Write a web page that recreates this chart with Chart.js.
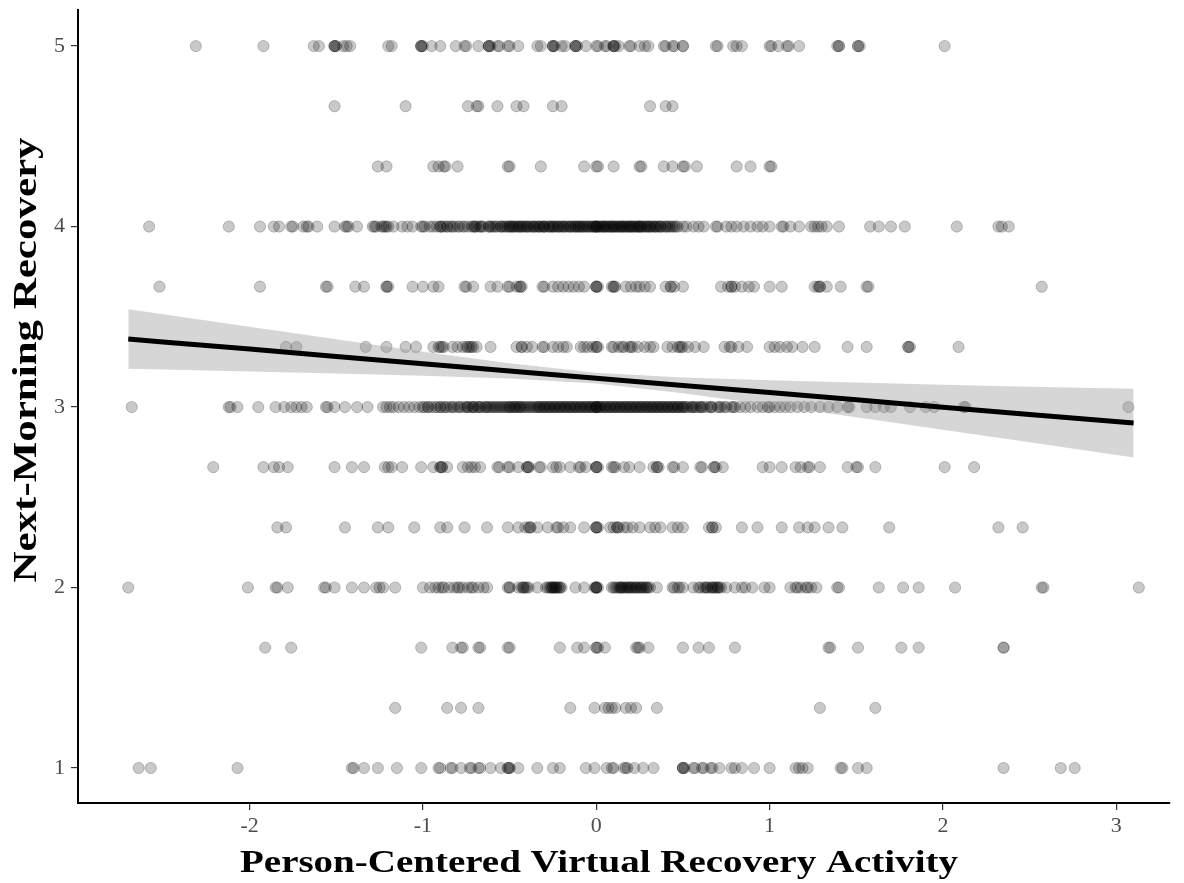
<!DOCTYPE html>
<html>
<head>
<meta charset="utf-8">
<script src="https://cdn.jsdelivr.net/npm/chart.js@4.4.1/dist/chart.umd.min.js"></script>
<style>
  html, body { margin: 0; padding: 0; background: #fff; }
  #wrap { width: 1184px; height: 883px; }
</style>
</head>
<body>
<div id="wrap"><canvas id="chart"></canvas></div>
<script>
// response levels (rows of the scatter)
const rowLevels = [1, 1.333, 1.667, 2, 2.333, 2.667, 3, 3.333, 3.667, 4, 4.333, 4.667, 5];

// x values read per row (repeats where the dots stack up darker)
const row100 = [-2.64,-2.57,-2.07,-1.41,-1.40,-1.34,-1.26,-1.15,-1.01,-0.91,-0.90,-0.84,-0.83,-0.78,-0.73,-0.72,-0.68,-0.67,-0.61,-0.55,-0.51,-0.51,-0.50,-0.50,-0.45,-0.34,-0.25,-0.21,-0.06,-0.01,0.06,0.09,0.10,0.16,0.17,0.18,0.22,0.27,0.33,0.50,0.50,0.50,0.51,0.56,0.57,0.61,0.62,0.66,0.67,0.71,0.78,0.80,0.84,0.91,1.00,1.15,1.17,1.19,1.22,1.41,1.42,1.51,1.56,2.35,2.68,2.76];
const row133 = [-1.16,-0.86,-0.78,-0.68,-0.15,-0.01,0.05,0.07,0.09,0.11,0.17,0.20,0.23,0.35,1.29,1.61];
const row167 = [-1.91,-1.76,-1.01,-0.83,-0.78,-0.77,-0.68,-0.67,-0.51,-0.50,-0.21,-0.11,-0.07,0.00,0.00,0.01,0.05,0.23,0.24,0.25,0.30,0.50,0.59,0.65,0.80,1.34,1.35,1.51,1.76,1.86,2.35,2.35];
const row200 = [-2.70,-2.01,-1.85,-1.84,-1.78,-1.57,-1.56,-1.51,-1.41,-1.34,-1.27,-1.25,-1.23,-1.16,-1.00,-0.96,-0.93,-0.91,-0.89,-0.88,-0.85,-0.82,-0.80,-0.79,-0.77,-0.74,-0.72,-0.71,-0.68,-0.65,-0.63,-0.51,-0.50,-0.50,-0.45,-0.43,-0.42,-0.42,-0.41,-0.40,-0.39,-0.34,-0.29,-0.28,-0.27,-0.26,-0.26,-0.25,-0.25,-0.24,-0.24,-0.23,-0.23,-0.22,-0.21,-0.21,-0.20,-0.12,-0.07,-0.01,0.00,0.00,0.00,0.00,0.01,0.09,0.10,0.11,0.12,0.13,0.14,0.14,0.15,0.15,0.16,0.17,0.18,0.18,0.19,0.20,0.20,0.21,0.22,0.23,0.23,0.24,0.25,0.26,0.26,0.27,0.28,0.29,0.29,0.30,0.31,0.35,0.44,0.45,0.47,0.48,0.50,0.56,0.59,0.60,0.62,0.63,0.64,0.64,0.66,0.67,0.67,0.68,0.69,0.70,0.70,0.71,0.72,0.75,0.80,0.84,0.86,0.90,0.97,1.00,1.12,1.15,1.16,1.18,1.21,1.22,1.24,1.27,1.39,1.40,1.63,1.77,1.86,2.07,2.57,2.58,3.13];
const row233 = [-1.84,-1.79,-1.45,-1.26,-1.20,-1.05,-0.90,-0.86,-0.76,-0.63,-0.51,-0.45,-0.41,-0.39,-0.38,-0.38,-0.34,-0.28,-0.23,-0.22,-0.19,-0.15,-0.07,0.00,0.00,0.00,0.01,0.08,0.10,0.12,0.12,0.13,0.16,0.18,0.21,0.25,0.31,0.34,0.37,0.44,0.47,0.50,0.65,0.67,0.67,0.69,0.84,0.93,1.07,1.17,1.22,1.26,1.34,1.42,1.69,2.32,2.46];
const row267 = [-2.21,-1.92,-1.86,-1.83,-1.78,-1.51,-1.41,-1.34,-1.22,-1.20,-1.18,-1.12,-1.01,-0.94,-0.90,-0.90,-0.89,-0.89,-0.86,-0.77,-0.74,-0.72,-0.70,-0.67,-0.57,-0.56,-0.51,-0.50,-0.45,-0.40,-0.40,-0.39,-0.39,-0.33,-0.32,-0.25,-0.23,-0.21,-0.15,-0.10,-0.09,-0.06,0.00,0.00,0.00,0.01,0.09,0.10,0.11,0.16,0.19,0.25,0.33,0.35,0.35,0.36,0.44,0.45,0.50,0.60,0.61,0.68,0.68,0.69,0.73,0.96,1.00,1.07,1.15,1.18,1.22,1.23,1.29,1.45,1.50,1.51,1.61,2.01,2.18];
const row300 = [-2.68,-2.12,-2.11,-2.07,-1.95,-1.85,-1.80,-1.76,-1.73,-1.70,-1.67,-1.56,-1.55,-1.51,-1.45,-1.38,-1.32,-1.23,-1.21,-1.19,-1.17,-1.14,-1.11,-1.08,-1.05,-1.02,-1.00,-0.99,-0.97,-0.97,-0.95,-0.93,-0.92,-0.90,-0.90,-0.88,-0.87,-0.86,-0.84,-0.83,-0.82,-0.80,-0.79,-0.78,-0.76,-0.75,-0.74,-0.74,-0.72,-0.71,-0.71,-0.70,-0.68,-0.68,-0.67,-0.66,-0.64,-0.64,-0.63,-0.62,-0.61,-0.60,-0.59,-0.58,-0.57,-0.56,-0.55,-0.54,-0.53,-0.52,-0.51,-0.50,-0.50,-0.49,-0.48,-0.47,-0.47,-0.46,-0.45,-0.44,-0.44,-0.43,-0.42,-0.41,-0.40,-0.39,-0.38,-0.37,-0.36,-0.35,-0.34,-0.33,-0.33,-0.32,-0.31,-0.30,-0.30,-0.29,-0.28,-0.27,-0.27,-0.26,-0.25,-0.24,-0.24,-0.23,-0.22,-0.21,-0.21,-0.20,-0.19,-0.18,-0.18,-0.17,-0.16,-0.15,-0.15,-0.14,-0.13,-0.12,-0.12,-0.11,-0.10,-0.09,-0.09,-0.08,-0.07,-0.06,-0.06,-0.05,-0.04,-0.03,-0.03,-0.02,-0.01,0.00,0.00,0.00,0.00,0.01,0.02,0.02,0.03,0.04,0.05,0.05,0.06,0.07,0.08,0.08,0.09,0.10,0.11,0.11,0.12,0.13,0.14,0.14,0.15,0.16,0.17,0.17,0.18,0.19,0.20,0.20,0.21,0.22,0.23,0.23,0.24,0.25,0.26,0.26,0.27,0.28,0.29,0.29,0.30,0.31,0.32,0.32,0.33,0.34,0.35,0.35,0.36,0.37,0.38,0.38,0.39,0.40,0.41,0.41,0.42,0.43,0.44,0.44,0.45,0.46,0.47,0.47,0.48,0.49,0.50,0.50,0.51,0.52,0.53,0.55,0.55,0.56,0.57,0.58,0.60,0.60,0.61,0.62,0.64,0.66,0.66,0.67,0.70,0.71,0.72,0.74,0.75,0.78,0.79,0.80,0.83,0.86,0.89,0.93,0.96,0.99,1.00,1.03,1.06,1.09,1.12,1.16,1.20,1.24,1.29,1.34,1.39,1.45,1.46,1.56,1.61,1.66,1.70,1.81,1.90,1.95,2.12,2.13,3.07];
const row333 = [-1.79,-1.73,-1.33,-1.21,-1.10,-1.04,-0.94,-0.91,-0.90,-0.89,-0.88,-0.83,-0.80,-0.77,-0.75,-0.74,-0.73,-0.72,-0.71,-0.69,-0.61,-0.46,-0.43,-0.43,-0.40,-0.37,-0.31,-0.30,-0.25,-0.22,-0.19,-0.17,-0.09,-0.07,-0.05,-0.02,0.00,0.00,0.01,0.09,0.10,0.13,0.15,0.16,0.19,0.20,0.21,0.24,0.28,0.31,0.33,0.41,0.44,0.47,0.48,0.49,0.50,0.53,0.57,0.62,0.74,0.77,0.78,0.82,0.87,1.00,1.03,1.06,1.10,1.13,1.19,1.26,1.45,1.56,1.80,1.80,1.81,2.09];
const row367 = [-2.52,-1.94,-1.56,-1.55,-1.39,-1.34,-1.21,-1.21,-1.20,-1.06,-1.00,-0.94,-0.91,-0.76,-0.75,-0.71,-0.61,-0.57,-0.51,-0.50,-0.46,-0.44,-0.44,-0.43,-0.31,-0.30,-0.25,-0.22,-0.19,-0.16,-0.13,-0.10,-0.07,0.00,0.00,0.00,0.01,0.09,0.10,0.10,0.11,0.17,0.20,0.23,0.25,0.28,0.31,0.40,0.43,0.43,0.45,0.50,0.72,0.76,0.78,0.78,0.80,0.84,0.88,0.91,1.00,1.07,1.26,1.28,1.29,1.29,1.33,1.41,1.56,1.57,2.57];
const row400 = [-2.58,-2.12,-1.94,-1.86,-1.83,-1.76,-1.75,-1.69,-1.67,-1.66,-1.61,-1.51,-1.45,-1.44,-1.43,-1.38,-1.29,-1.28,-1.27,-1.24,-1.23,-1.22,-1.21,-1.20,-1.17,-1.12,-1.09,-1.06,-1.01,-1.00,-0.99,-0.96,-0.94,-0.92,-0.90,-0.90,-0.89,-0.88,-0.86,-0.86,-0.84,-0.83,-0.82,-0.80,-0.79,-0.77,-0.76,-0.74,-0.72,-0.71,-0.70,-0.70,-0.69,-0.67,-0.67,-0.66,-0.65,-0.62,-0.62,-0.61,-0.60,-0.59,-0.58,-0.57,-0.55,-0.55,-0.54,-0.53,-0.52,-0.51,-0.50,-0.50,-0.49,-0.48,-0.48,-0.47,-0.46,-0.45,-0.45,-0.44,-0.43,-0.43,-0.42,-0.41,-0.40,-0.40,-0.39,-0.38,-0.37,-0.36,-0.36,-0.35,-0.34,-0.33,-0.33,-0.32,-0.31,-0.30,-0.30,-0.30,-0.28,-0.27,-0.27,-0.26,-0.25,-0.25,-0.24,-0.23,-0.22,-0.22,-0.21,-0.20,-0.19,-0.19,-0.18,-0.17,-0.16,-0.15,-0.15,-0.14,-0.13,-0.12,-0.12,-0.11,-0.10,-0.10,-0.09,-0.08,-0.08,-0.07,-0.06,-0.05,-0.05,-0.04,-0.03,-0.02,-0.02,-0.01,0.00,0.00,0.00,0.00,0.01,0.02,0.02,0.03,0.04,0.04,0.05,0.05,0.06,0.07,0.07,0.08,0.09,0.09,0.10,0.10,0.11,0.12,0.12,0.13,0.14,0.14,0.15,0.15,0.16,0.17,0.17,0.18,0.19,0.19,0.20,0.20,0.21,0.22,0.22,0.23,0.24,0.24,0.25,0.25,0.26,0.26,0.27,0.28,0.29,0.29,0.30,0.31,0.31,0.32,0.33,0.34,0.34,0.35,0.36,0.37,0.37,0.38,0.40,0.40,0.41,0.42,0.43,0.44,0.45,0.46,0.47,0.50,0.52,0.56,0.59,0.62,0.69,0.70,0.75,0.78,0.81,0.85,0.89,0.93,0.96,1.00,1.07,1.08,1.12,1.17,1.24,1.26,1.28,1.30,1.33,1.40,1.58,1.63,1.70,1.78,2.08,2.32,2.34,2.38];
const row433 = [-1.26,-1.21,-0.94,-0.91,-0.88,-0.87,-0.80,-0.51,-0.50,-0.32,-0.07,0.00,0.01,0.10,0.25,0.26,0.39,0.44,0.50,0.51,0.58,0.81,0.89,1.00,1.01];
const row467 = [-1.51,-1.10,-0.74,-0.69,-0.68,-0.57,-0.46,-0.42,-0.25,-0.20,0.31,0.40,0.44];
const row500 = [-2.31,-1.92,-1.63,-1.60,-1.51,-1.51,-1.51,-1.50,-1.46,-1.44,-1.42,-1.20,-1.18,-1.01,-1.01,-1.01,-1.00,-0.95,-0.90,-0.81,-0.76,-0.75,-0.68,-0.62,-0.62,-0.62,-0.61,-0.57,-0.56,-0.51,-0.50,-0.45,-0.34,-0.32,-0.25,-0.25,-0.25,-0.24,-0.20,-0.18,-0.12,-0.12,-0.12,-0.11,-0.06,0.00,0.01,0.05,0.06,0.10,0.10,0.10,0.11,0.13,0.19,0.20,0.25,0.28,0.30,0.39,0.40,0.44,0.45,0.50,0.50,0.69,0.70,0.79,0.81,0.84,1.00,1.01,1.05,1.10,1.11,1.17,1.39,1.40,1.40,1.51,1.51,1.52,2.01];

const rows = [row100, row133, row167, row200, row233, row267, row300, row333, row367, row400, row433, row467, row500];

// fitted line and confidence band
const fitX   = [-2.7, -2.5, -2, -1.5, -1, -0.5, 0, 0.5, 1, 1.5, 2, 2.5, 3.1];
const fitY   = [3.377, 3.361, 3.321, 3.280, 3.240, 3.200, 3.160, 3.120, 3.080, 3.040, 2.999, 2.959, 2.911];
const bandHi = [3.542, 3.514, 3.445, 3.375, 3.307, 3.242, 3.190, 3.163, 3.148, 3.136, 3.124, 3.113, 3.101];
const bandLo = [3.212, 3.208, 3.197, 3.186, 3.173, 3.158, 3.130, 3.077, 3.012, 2.944, 2.874, 2.805, 2.721];

const xTicks = [-2, -1, 0, 1, 2, 3];
const yTicks = [1, 2, 3, 4, 5];
const xTitle = 'Person-Centered Virtual Recovery Activity';
const yTitle = 'Next-Morning Recovery';

const points = [];
rows.forEach((r, i) => r.forEach(x => points.push({ x, y: rowLevels[i] })));
const pair = (xs, ys) => xs.map((x, i) => ({ x, y: ys[i] }));

const serif = '"Liberation Serif", "Times New Roman", serif';

// the axis titles in the picture are wide bold Times, stretched along the text
function stretchedText(ctx, text, x, y, angle, size, targetLen) {
  ctx.save();
  ctx.font = `bold ${size}px ${serif}`;
  ctx.fillStyle = '#000';
  ctx.textAlign = 'center';
  ctx.textBaseline = 'alphabetic';
  const w = ctx.measureText(text).width;
  ctx.translate(x, y);
  ctx.rotate(angle);
  ctx.scale(targetLen / w, 1);
  ctx.fillText(text, 0, 0);
  ctx.restore();
}

const axisTitles = {
  id: 'axisTitles',
  afterDraw(chart) {
    const ctx = chart.ctx;
    stretchedText(ctx, xTitle, 599, 872, 0, 32, 718);
    stretchedText(ctx, yTitle, 36, 360, -Math.PI / 2, 33, 445);
  }
};

const noEdgePad = s => { s.paddingTop = 0; s.paddingBottom = 0; s.paddingLeft = 0; s.paddingRight = 0; };

new Chart(document.getElementById('chart'), {
  type: 'scatter',
  data: {
    datasets: [
      {
        type: 'line', data: pair(fitX, fitY), order: 0,
        borderColor: '#000', borderWidth: 5, pointRadius: 0, fill: false, tension: 0
      },
      {
        type: 'line', data: pair(fitX, bandHi), order: 1,
        borderWidth: 0, pointRadius: 0, fill: '+1', backgroundColor: 'rgba(153,153,153,0.4)'
      },
      {
        type: 'line', data: pair(fitX, bandLo), order: 1,
        borderWidth: 0, pointRadius: 0, fill: false
      },
      {
        data: points, order: 2,
        pointRadius: 5.6, pointBorderWidth: 1,
        backgroundColor: 'rgba(0,0,0,0.21)', borderColor: 'rgba(0,0,0,0.22)'
      }
    ]
  },
  options: {
    responsive: true,
    maintainAspectRatio: false,
    animation: false,
    layout: { padding: { top: 10, right: 14, left: 0, bottom: 0 } },
    plugins: { legend: { display: false }, tooltip: { enabled: false } },
    scales: {
      x: {
        type: 'linear', min: -2.99, max: 3.31,
        afterFit: s => { s.height = 80; noEdgePad(s); },
        afterBuildTicks: s => { s.ticks = xTicks.map(v => ({ value: v })); },
        ticks: { color: '#4d4d4d', font: { family: serif, size: 22 }, padding: 3, includeBounds: false },
        grid: { drawOnChartArea: false, drawTicks: true, tickLength: 7, color: '#333', lineWidth: 1.2 },
        border: { display: true, color: '#000', width: 2 },
        title: { display: false }
      },
      y: {
        type: 'linear', min: 0.806, max: 5.2,
        afterFit: s => { s.width = 78; noEdgePad(s); },
        afterBuildTicks: s => { s.ticks = yTicks.map(v => ({ value: v })); },
        ticks: { color: '#4d4d4d', font: { family: serif, size: 22 }, padding: 6, includeBounds: false },
        grid: { drawOnChartArea: false, drawTicks: true, tickLength: 7, color: '#333', lineWidth: 1.2 },
        border: { display: true, color: '#000', width: 2 },
        title: { display: false }
      }
    }
  },
  plugins: [axisTitles]
});
</script>
</body>
</html>
